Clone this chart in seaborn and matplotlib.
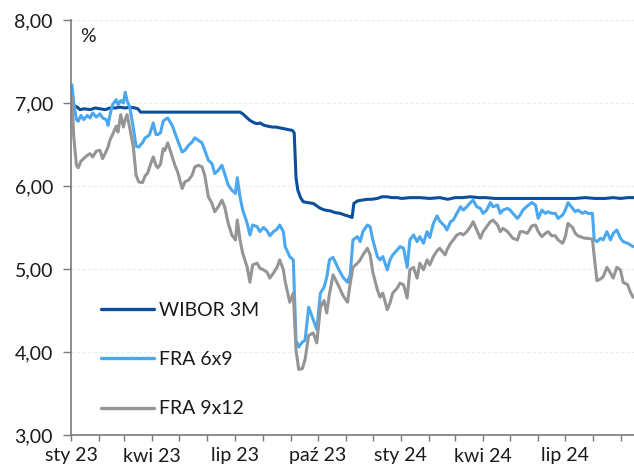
import pandas as pd
import matplotlib
matplotlib.use("Agg")
import matplotlib.pyplot as plt
import matplotlib.dates as mdates
from matplotlib.ticker import FuncFormatter
import seaborn as sns

# days since 2023-01-01 and rates in %
wibor_days = [0, 1, 7, 10, 15, 21, 27, 32, 38, 43, 49, 54, 60, 65, 71, 74, 77, 87, 99, 110,
              121, 132, 143, 154, 165, 176, 187, 190, 194, 198, 203, 206, 209, 214, 218, 223,
              227, 231, 236, 240, 245, 247, 249, 251, 254, 257, 262, 268, 272, 276, 281, 287,
              292, 298, 303, 309, 311, 313, 317, 322, 328, 333, 339, 344, 350, 355, 361, 366,
              375, 386, 397, 408, 417, 425, 433, 442, 451, 459, 469, 480, 492, 503, 514, 525,
              536, 547, 558, 569, 580, 591, 600, 608, 616, 623]
wibor_3m = [7.00, 6.98, 6.95, 6.92, 6.93, 6.92, 6.94, 6.93, 6.92, 6.94, 6.94, 6.95, 6.94, 6.95,
            6.94, 6.93, 6.89, 6.89, 6.89, 6.89, 6.89, 6.89, 6.89, 6.89, 6.89, 6.89, 6.89, 6.87,
            6.83, 6.79, 6.76, 6.75, 6.76, 6.73, 6.72, 6.71, 6.71, 6.70, 6.69, 6.68, 6.67, 6.64,
            6.10, 5.95, 5.86, 5.81, 5.80, 5.79, 5.76, 5.73, 5.71, 5.70, 5.68, 5.67, 5.65, 5.63,
            5.62, 5.79, 5.82, 5.83, 5.84, 5.84, 5.85, 5.87, 5.87, 5.86, 5.86, 5.85, 5.86, 5.86,
            5.85, 5.86, 5.84, 5.86, 5.86, 5.87, 5.86, 5.86, 5.85, 5.85, 5.85, 5.85, 5.85, 5.85,
            5.85, 5.85, 5.85, 5.86, 5.85, 5.85, 5.86, 5.85, 5.86, 5.86]

fra_days = [1, 3, 6, 8, 11, 14, 18, 21, 24, 28, 32, 35, 39, 41, 43, 46, 50, 52, 55, 58, 60, 62,
            65, 69, 72, 75, 79, 82, 85, 87, 91, 94, 96, 99, 102, 104, 107, 112, 115, 118, 123,
            126, 130, 134, 137, 141, 145, 148, 152, 156, 159, 163, 167, 170, 174, 178, 182, 184,
            187, 190, 195, 198, 201, 206, 209, 213, 217, 220, 224, 228, 231, 235, 237, 240, 242,
            246, 249, 252, 256, 259, 263, 268, 272, 276, 280, 283, 286, 290, 296, 301, 306, 309,
            312, 317, 320, 323, 328, 331, 334, 339, 342, 345, 350, 353, 356, 361, 364, 368, 372,
            375, 379, 383, 386, 390, 394, 397, 401, 405, 408, 414, 416, 420, 423, 427, 431, 434,
            438, 442, 445, 449, 453, 456, 460, 464, 467, 472, 475, 478, 483, 486, 489, 494, 497,
            500, 505, 510, 514, 517, 521, 525, 528, 532, 536, 539, 544, 547, 550, 555, 558, 561,
            566, 569, 572, 577, 579, 582, 586, 589, 593, 597, 600, 604, 608, 611, 616, 619, 622]
fra_6x9 = [7.22, 7.00, 6.80, 6.78, 6.85, 6.80, 6.85, 6.82, 6.88, 6.83, 6.87, 6.82, 6.80, 6.73,
           6.85, 6.98, 7.04, 6.98, 7.03, 7.00, 7.13, 7.03, 6.95, 6.70, 6.48, 6.47, 6.52, 6.58,
           6.60, 6.62, 6.76, 6.62, 6.62, 6.64, 6.78, 6.80, 6.82, 6.73, 6.64, 6.55, 6.41, 6.43,
           6.49, 6.53, 6.58, 6.55, 6.52, 6.43, 6.31, 6.27, 6.15, 6.19, 6.25, 6.15, 6.01, 5.95,
           5.91, 6.10, 5.87, 5.71, 5.55, 5.41, 5.53, 5.51, 5.45, 5.50, 5.46, 5.40, 5.45, 5.48,
           5.53, 5.45, 5.27, 5.20, 5.15, 5.11, 4.14, 4.06, 4.12, 4.14, 4.54, 4.39, 4.27, 4.71,
           4.78, 4.90, 5.11, 5.14, 5.00, 4.90, 4.84, 4.93, 5.35, 5.39, 5.33, 5.45, 5.53, 5.51,
           5.35, 5.15, 5.11, 5.15, 4.99, 5.11, 5.17, 5.23, 5.27, 5.25, 5.02, 5.35, 5.41, 5.33,
           5.39, 5.31, 5.45, 5.38, 5.55, 5.64, 5.58, 5.51, 5.47, 5.57, 5.59, 5.67, 5.75, 5.71,
           5.75, 5.80, 5.83, 5.75, 5.73, 5.67, 5.71, 5.80, 5.75, 5.77, 5.67, 5.71, 5.73, 5.71,
           5.67, 5.61, 5.65, 5.71, 5.76, 5.80, 5.77, 5.61, 5.71, 5.67, 5.69, 5.67, 5.67, 5.61,
           5.65, 5.71, 5.80, 5.73, 5.69, 5.71, 5.67, 5.69, 5.67, 5.67, 5.35, 5.33, 5.37, 5.35,
           5.45, 5.35, 5.43, 5.47, 5.37, 5.33, 5.31, 5.29, 5.27]
fra_9x12 = [7.07, 6.60, 6.25, 6.22, 6.30, 6.33, 6.37, 6.39, 6.35, 6.42, 6.43, 6.33, 6.42, 6.47,
            6.55, 6.62, 6.72, 6.65, 6.86, 6.71, 6.80, 6.86, 6.70, 6.47, 6.13, 6.05, 6.04, 6.12,
            6.16, 6.23, 6.35, 6.25, 6.22, 6.26, 6.45, 6.43, 6.52, 6.35, 6.25, 6.17, 5.97, 6.05,
            6.07, 6.13, 6.23, 6.25, 6.23, 6.13, 5.87, 5.79, 5.69, 5.75, 5.83, 5.75, 5.55, 5.41,
            5.35, 5.59, 5.35, 5.19, 5.02, 4.84, 5.05, 5.07, 5.01, 4.99, 4.96, 4.89, 4.95, 5.02,
            5.11, 4.99, 4.85, 4.70, 4.60, 4.71, 4.02, 3.79, 3.80, 3.91, 4.20, 4.23, 4.11, 4.54,
            4.62, 4.47, 4.70, 4.93, 4.80, 4.68, 4.60, 4.83, 5.02, 5.07, 5.11, 5.17, 5.25, 5.17,
            4.96, 4.75, 4.66, 4.71, 4.51, 4.59, 4.71, 4.77, 4.83, 4.81, 4.65, 4.99, 5.02, 4.89,
            5.07, 4.99, 5.11, 5.05, 5.15, 5.22, 5.25, 5.17, 5.23, 5.31, 5.35, 5.41, 5.43, 5.41,
            5.45, 5.51, 5.57, 5.47, 5.37, 5.45, 5.51, 5.57, 5.59, 5.53, 5.45, 5.49, 5.45, 5.41,
            5.37, 5.35, 5.45, 5.45, 5.43, 5.52, 5.53, 5.45, 5.39, 5.43, 5.45, 5.40, 5.40, 5.35,
            5.31, 5.39, 5.55, 5.50, 5.43, 5.40, 5.38, 5.37, 5.37, 5.36, 5.15, 4.86, 4.88, 4.91,
            5.02, 4.95, 4.89, 5.02, 4.99, 4.84, 4.81, 4.72, 4.66]

series_names = ["WIBOR 3M", "FRA 6x9", "FRA 9x12"]
colors = ["#0b4f9c", "#4aa8f0", "#959595"]

tick_dates = ["2023-01-01", "2023-04-01", "2023-07-01", "2023-10-01",
              "2024-01-01", "2024-04-01", "2024-07-01"]
tick_labels = ["sty 23", "kwi 23", "lip 23", "paź 23", "sty 24", "kwi 24", "lip 24"]

start = pd.Timestamp("2023-01-01")
parts = []
for name, days, vals in [(series_names[0], wibor_days, wibor_3m),
                         (series_names[1], fra_days, fra_6x9),
                         (series_names[2], fra_days, fra_9x12)]:
    parts.append(pd.DataFrame({"date": start + pd.to_timedelta(days, unit="D"),
                               "value": vals, "series": name}))
df = pd.concat(parts, ignore_index=True)

sns.set_theme(style="white")
plt.rcParams["font.family"] = ["Lato", "DejaVu Sans"]

fig = plt.figure(figsize=(6.34, 4.72), dpi=100)
ax = fig.add_axes([71 / 634, 37 / 472, 563 / 634, 415 / 472])

sns.lineplot(data=df, x="date", y="value", hue="series", hue_order=series_names,
             palette=colors, linewidth=2.2, ax=ax, legend=False)

ax.set_ylim(3, 8)
ax.set_yticks([3, 4, 5, 6, 7, 8])
ax.yaxis.set_major_formatter(FuncFormatter(lambda v, p: f"{v:.2f}".replace(".", ",")))
ax.set_xlim(start, pd.Timestamp("2024-09-15"))
ax.set_xticks(pd.to_datetime(tick_dates))
ax.set_xticklabels(tick_labels)
ax.xaxis.set_minor_locator(mdates.MonthLocator())
ax.set_xlabel("")
ax.set_ylabel("")

ax.grid(axis="y", color="#ebebeb", linestyle=(0, (3, 2)), linewidth=0.8)
for s in ["top", "right"]:
    ax.spines[s].set_visible(False)
for s in ["left", "bottom"]:
    ax.spines[s].set_color("#7a7a7a")
    ax.spines[s].set_linewidth(1.2)

ax.tick_params(axis="y", which="major", left=True, length=6, width=1, color="#7a7a7a",
               labelsize=14, pad=7, labelcolor="#1a1a1a")
ax.tick_params(axis="x", which="both", bottom=True, length=4, width=1, color="#7a7a7a",
               labelsize=14, pad=5, labelcolor="#1a1a1a")

ax.text(0.016, 0.961, "%", transform=ax.transAxes, ha="left", va="center",
        fontsize=14, color="#1a1a1a")

handles = [plt.Line2D([], [], color=c, linewidth=2.4) for c in colors]
ax.legend(handles, series_names, loc="upper left", bbox_to_anchor=(0.053, 0.32),
          frameon=False, fontsize=14, handlelength=2.75, handletextpad=0.25,
          labelspacing=1.65, borderpad=0, borderaxespad=0, labelcolor="#1a1a1a")

fig.savefig("out.png", dpi=100)
